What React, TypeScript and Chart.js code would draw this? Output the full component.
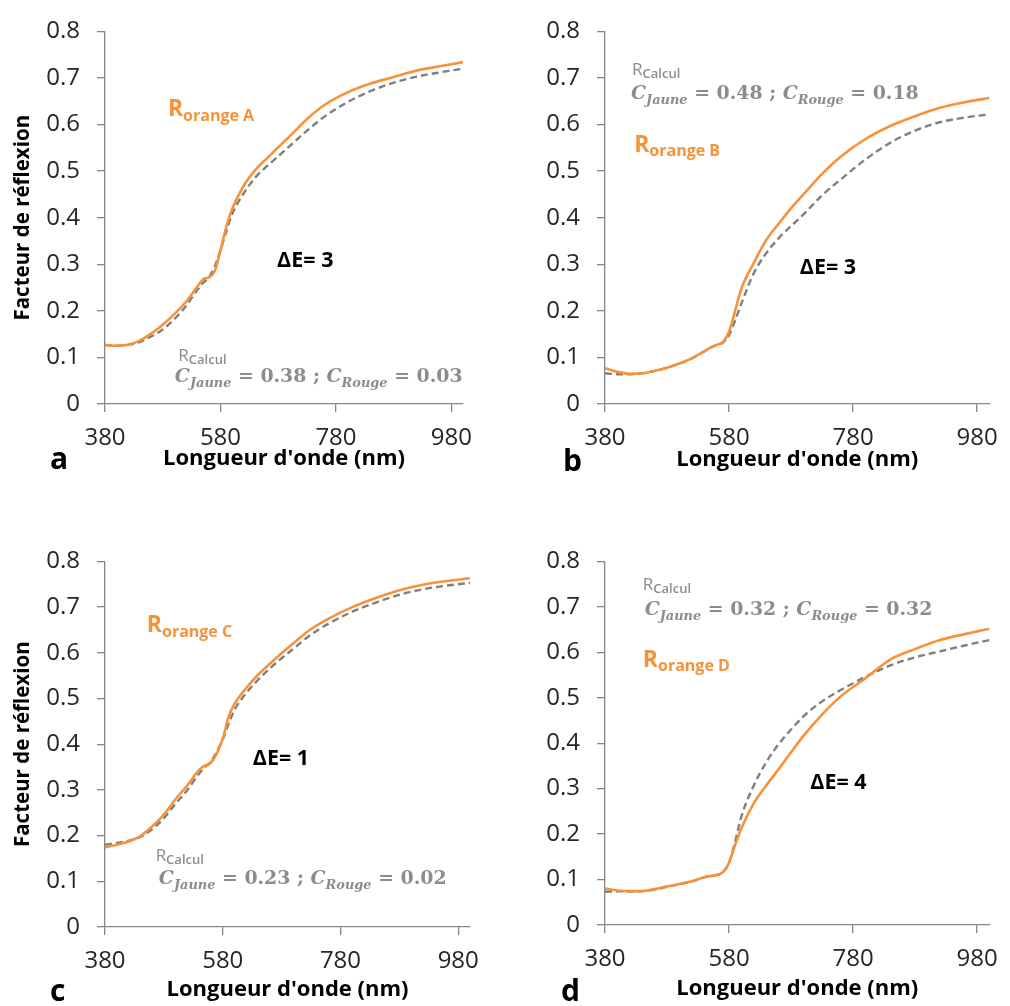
import React, { useEffect, useRef } from 'react';
import { Chart, registerables } from 'chart.js';

Chart.register(...registerables);

// ---------- data ----------
const wavelengths = [380, 400, 420, 440, 460, 480, 500, 520, 540, 550, 560, 570, 580, 590, 600, 620, 640, 660, 680, 700, 730, 760, 800, 840, 880, 920, 960, 1000];

const orangeA = [0.127, 0.125, 0.127, 0.136, 0.151, 0.170, 0.193, 0.219, 0.252, 0.268, 0.272, 0.285, 0.330, 0.380, 0.418, 0.468, 0.502, 0.527, 0.551, 0.575, 0.612, 0.642, 0.669, 0.688, 0.702, 0.716, 0.725, 0.734];
const calcA = [0.127, 0.125, 0.127, 0.133, 0.145, 0.160, 0.182, 0.210, 0.245, 0.260, 0.272, 0.295, 0.330, 0.370, 0.407, 0.452, 0.486, 0.510, 0.532, 0.554, 0.587, 0.617, 0.648, 0.672, 0.690, 0.703, 0.712, 0.720];

const orangeB = [0.077, 0.069, 0.065, 0.066, 0.071, 0.078, 0.087, 0.098, 0.113, 0.121, 0.127, 0.133, 0.155, 0.201, 0.248, 0.303, 0.352, 0.387, 0.420, 0.450, 0.494, 0.531, 0.569, 0.597, 0.618, 0.636, 0.648, 0.657];
const calcB = [0.066, 0.064, 0.064, 0.066, 0.071, 0.078, 0.087, 0.098, 0.113, 0.121, 0.127, 0.132, 0.148, 0.180, 0.216, 0.281, 0.324, 0.356, 0.382, 0.407, 0.448, 0.482, 0.525, 0.561, 0.587, 0.605, 0.615, 0.622];

const orangeC = [0.174, 0.180, 0.187, 0.199, 0.220, 0.246, 0.280, 0.310, 0.344, 0.353, 0.360, 0.380, 0.412, 0.460, 0.488, 0.523, 0.552, 0.576, 0.599, 0.621, 0.652, 0.675, 0.700, 0.720, 0.737, 0.749, 0.757, 0.763];
const calcC = [0.180, 0.184, 0.189, 0.197, 0.214, 0.238, 0.270, 0.300, 0.336, 0.350, 0.362, 0.385, 0.410, 0.445, 0.475, 0.512, 0.541, 0.566, 0.588, 0.609, 0.640, 0.664, 0.690, 0.710, 0.727, 0.739, 0.747, 0.753];

const orangeD = [0.080, 0.076, 0.0745, 0.0745, 0.079, 0.085, 0.090, 0.096, 0.105, 0.108, 0.110, 0.116, 0.137, 0.177, 0.213, 0.268, 0.307, 0.343, 0.380, 0.416, 0.463, 0.503, 0.543, 0.584, 0.607, 0.627, 0.640, 0.652];
const calcD = [0.073, 0.074, 0.074, 0.0745, 0.078, 0.084, 0.090, 0.096, 0.105, 0.108, 0.110, 0.116, 0.137, 0.184, 0.239, 0.307, 0.358, 0.398, 0.430, 0.459, 0.492, 0.517, 0.546, 0.571, 0.589, 0.602, 0.615, 0.627];

const xTickValues = [380, 580, 780, 980];
const yTickValues = [0, 0.1, 0.2, 0.3, 0.4, 0.5, 0.6, 0.7, 0.8];
const xRange = [380, 1000];
const yRange = [0, 0.8];

const panelLetters = ['a', 'b', 'c', 'd'];
const orangeNames = ['orange A', 'orange B', 'orange C', 'orange D'];
const deltaE = ['3', '3', '1', '4'];
const cJaune = ['0.38', '0.48', '0.23', '0.32'];
const cRouge = ['0.03', '0.18', '0.02', '0.32'];
const xTitle = "Longueur d'onde (nm)";
const yTitle = 'Facteur de réflexion';

// ---------- styles / layout ----------
const ORANGE = '#F7923A';
const GRAY_LINE = '#7F7F7F';
const GRAY_TEXT = '#8C8C8C';
const AXIS = '#868686';
const SANS = '"Open Sans"';
const SERIF = '"DejaVu Serif"';

const panels = [
  {
    orange: orangeA, calc: calcA,
    box: { left: 0, top: 0, width: 500, height: 480 },
    pad: { left: 11, top: 26, right: 37, bottom: 8 }, yWidth: 94, xHeight: 68, showYTitle: true,
    letterAt: { x: 50, y: 469 },
    orangeAt: { x: 489, y: 0.618 }, dEAt: { x: 678, y: 0.294 }, rCalcAt: { x: 507, y: 0.093 }, cAt: { x: 501, y: 0.047 },
  },
  {
    orange: orangeB, calc: calcB,
    box: { left: 500, top: 0, width: 510, height: 480 },
    pad: { left: 0, top: 26, right: 10, bottom: 7 }, yWidth: 105, xHeight: 69, showYTitle: false,
    letterAt: { x: 63, y: 471 },
    orangeAt: { x: 427, y: 0.542 }, dEAt: { x: 694, y: 0.279 }, rCalcAt: { x: 423.6, y: 0.707 }, cAt: { x: 422, y: 0.654 },
  },
  {
    orange: orangeC, calc: calcC,
    box: { left: 0, top: 530, width: 500, height: 476 },
    pad: { left: 11, top: 26, right: 30, bottom: 3 }, yWidth: 94, xHeight: 76, showYTitle: true,
    letterAt: { x: 50, y: 471 },
    orangeAt: { x: 451, y: 0.645 }, dEAt: { x: 631, y: 0.354 }, rCalcAt: { x: 466, y: 0.145 }, cAt: { x: 471.5, y: 0.095 },
  },
  {
    orange: orangeD, calc: calcD,
    box: { left: 500, top: 530, width: 510, height: 476 },
    pad: { left: 0, top: 26, right: 10, bottom: 4 }, yWidth: 105, xHeight: 77, showYTitle: false,
    letterAt: { x: 61, y: 471 },
    orangeAt: { x: 441, y: 0.568 }, dEAt: { x: 711, y: 0.299 }, rCalcAt: { x: 441, y: 0.737 }, cAt: { x: 444, y: 0.683 },
  },
];

type Part = { t: string; size: number; family: string; weight?: string; style?: string; color: string; dy?: number };

function drawRich(ctx: CanvasRenderingContext2D, x: number, y: number, parts: Part[], fitWidth?: number) {
  const fontOf = (p: Part, k: number) => `${p.style || 'normal'} ${p.weight || 'normal'} ${p.size * k}px ${p.family}`;
  let k = 1;
  if (fitWidth) {
    let w = 0;
    for (const p of parts) { ctx.font = fontOf(p, 1); w += ctx.measureText(p.t).width; }
    k = fitWidth / w;
  }
  let cx = x;
  ctx.textAlign = 'left';
  ctx.textBaseline = 'alphabetic';
  for (const p of parts) {
    ctx.font = fontOf(p, k);
    ctx.fillStyle = p.color;
    ctx.fillText(p.t, cx, y + (p.dy || 0) * k);
    cx += ctx.measureText(p.t).width;
  }
}

function Panel({ index }: { index: number }) {
  const ref = useRef<HTMLCanvasElement | null>(null);
  const cfg = panels[index];

  useEffect(() => {
    if (!ref.current) return;
    const annotate = {
      id: 'annotate' + index,
      afterDraw(chart: any) {
        const { ctx, scales } = chart;
        const x = scales.x, y = scales.y;
        const P = (a: { x: number; y: number }) => [x.getPixelForValue(a.x), y.getPixelForValue(a.y)];
        ctx.save();
        let [px, py] = P(cfg.orangeAt);
        drawRich(ctx, px, py, [
          { t: 'R', size: 23, family: SANS, weight: 'bold', color: ORANGE },
          { t: orangeNames[index], size: 16, family: SANS, weight: 'bold', color: ORANGE, dy: 4.5 },
        ]);
        [px, py] = P(cfg.dEAt);
        drawRich(ctx, px, py, [{ t: 'ΔE= ' + deltaE[index], size: 21.5, family: SANS, weight: 'bold', color: '#000' }]);
        [px, py] = P(cfg.rCalcAt);
        drawRich(ctx, px, py, [
          { t: 'R', size: 17, family: SANS, color: GRAY_TEXT },
          { t: 'Calcul', size: 13, family: SANS, weight: '600', color: GRAY_TEXT, dy: 3 },
        ]);
        [px, py] = P(cfg.cAt);
        drawRich(ctx, px, py, [
          { t: 'C', size: 19, family: SERIF, weight: 'bold', style: 'italic', color: GRAY_TEXT },
          { t: 'Jaune', size: 13, family: SERIF, weight: 'bold', style: 'italic', color: GRAY_TEXT, dy: 5 },
          { t: ' = ' + cJaune[index] + ' ; ', size: 19, family: SERIF, weight: 'bold', color: GRAY_TEXT },
          { t: 'C', size: 19, family: SERIF, weight: 'bold', style: 'italic', color: GRAY_TEXT },
          { t: 'Rouge', size: 13, family: SERIF, weight: 'bold', style: 'italic', color: GRAY_TEXT, dy: 5 },
          { t: ' = ' + cRouge[index], size: 19, family: SERIF, weight: 'bold', color: GRAY_TEXT },
        ], 288);
        drawRich(ctx, cfg.letterAt.x, cfg.letterAt.y, [{ t: panelLetters[index], size: 30, family: SANS, weight: 'bold', color: '#000' }]);
        ctx.restore();
      },
    };

    const chart = new Chart(ref.current, {
      type: 'line',
      data: {
        datasets: [
          {
            label: 'R ' + orangeNames[index],
            data: wavelengths.map((w, i) => ({ x: w, y: cfg.orange[i] })),
            borderColor: ORANGE,
            borderWidth: 2.6,
            pointRadius: 0,
            cubicInterpolationMode: 'monotone',
            order: 1,
          },
          {
            label: 'R Calcul',
            data: wavelengths.map((w, i) => ({ x: w, y: cfg.calc[i] })),
            borderColor: GRAY_LINE,
            borderWidth: 2.4,
            borderDash: [7, 4],
            pointRadius: 0,
            cubicInterpolationMode: 'monotone',
            order: 2,
          },
        ],
      },
      options: {
        animation: false,
        responsive: false,
        maintainAspectRatio: false,
        layout: { padding: cfg.pad },
        plugins: { legend: { display: false }, tooltip: { enabled: false } },
        scales: {
          x: {
            type: 'linear',
            min: xRange[0],
            max: xRange[1],
            afterBuildTicks: (s: any) => { s.ticks = xTickValues.map((v) => ({ value: v })); },
            afterFit: (s: any) => { s.height = cfg.xHeight; },
            grid: { drawOnChartArea: false, drawTicks: true, tickLength: 8, color: AXIS, lineWidth: 1.3 },
            border: { display: true, color: AXIS, width: 1.3 },
            ticks: { font: { family: 'Open Sans', size: 24 }, color: '#262626', padding: 12, maxRotation: 0, autoSkip: false },
            title: { display: true, text: xTitle, font: { family: 'Open Sans', size: 22, weight: 'bold' }, color: '#000', padding: 0 },
          },
          y: {
            type: 'linear',
            min: yRange[0],
            max: yRange[1],
            afterBuildTicks: (s: any) => { s.ticks = yTickValues.map((v) => ({ value: v })); },
            afterFit: (s: any) => { s.width = cfg.yWidth; },
            grid: { drawOnChartArea: false, drawTicks: true, tickLength: 8, color: AXIS, lineWidth: 1.3 },
            border: { display: true, color: AXIS, width: 1.3 },
            ticks: {
              font: { family: 'Open Sans', size: 24 },
              color: '#262626',
              padding: 17,
              callback: (v: any) => (Number(v) === 0 ? '0' : Number(v).toFixed(1)),
            },
            title: { display: cfg.showYTitle, text: yTitle, font: { family: 'Open Sans', size: 20.5, weight: 'bold' }, color: '#000', padding: 0 },
          },
        },
      },
      plugins: [annotate],
    } as any);
    return () => chart.destroy();
  }, [index]);

  const b = cfg.box;
  return (
    <div style={{ position: 'absolute', left: b.left, top: b.top, width: b.width, height: b.height }}>
      <canvas ref={ref} width={b.width} height={b.height} style={{ width: b.width, height: b.height, display: 'block' }} />
    </div>
  );
}

export default function App() {
  return (
    <div style={{ position: 'absolute', left: 0, top: 0, width: 1010, height: 1006, background: '#fff', overflow: 'hidden' }}>
      {panels.map((_, i) => (
        <Panel key={i} index={i} />
      ))}
    </div>
  );
}
